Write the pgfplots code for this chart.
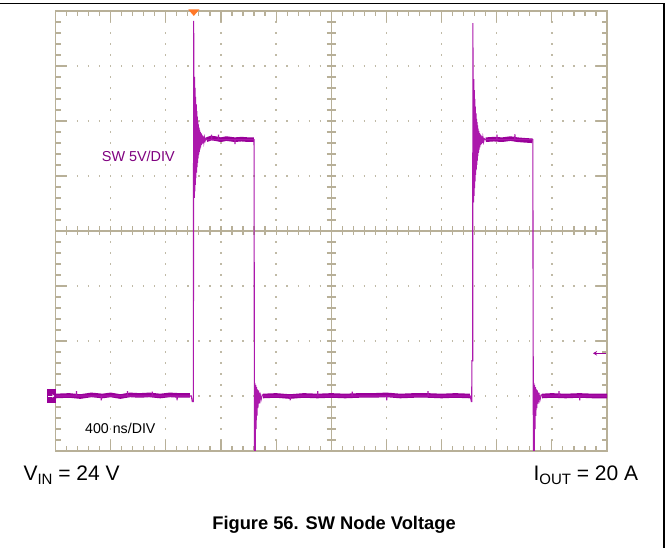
\documentclass[border=0pt]{standalone}
\usepackage{pgfplots}
\pgfplotsset{compat=1.18}
\usepackage{fontspec}
\setmainfont{Liberation Sans}
\usetikzlibrary{arrows.meta}
\definecolor{trace}{RGB}{153,0,153}
\definecolor{edgec}{RGB}{172,24,172}
\definecolor{txtp}{RGB}{128,0,128}
\definecolor{gridc}{RGB}{184,176,152}
\definecolor{dotc}{RGB}{192,186,166}
\definecolor{trig}{RGB}{255,120,40}
\begin{document}
\begin{tikzpicture}
\useasboundingbox (0,0) rectangle (668pt,548pt);
\fill[white] (0,0) rectangle (668pt,548pt);
\begin{scope}[shift={(0pt,548pt)},x=1pt,y=-1pt]
  % dotted grid
  \foreach \i in {1,2,3,4,6,7,8,9} {
    \draw[dotc,line width=1.3pt,dash pattern=on 1.3pt off 9.7pt,dash phase=0.65pt] ({55.5+55.15*\i},11)--({55.5+55.15*\i},451);
  }
  \foreach \k in {1,2,3,5,6,7} {
    \draw[dotc,line width=1.3pt,dash pattern=on 1.3pt off 9.73pt,dash phase=0.65pt] (55.5,{11+55*\k})--(607,{11+55*\k});
  }
  % ticks along x
  \foreach \j in {1,...,49} {
    \pgfmathsetmacro\xx{55.5+11.03*\j}
    \pgfmathsetmacro\len{mod(\j,5)==0 ? 11 : 5}
    \draw[gridc,line width=1.2pt] (\xx,11)--(\xx,{11+\len});
    \draw[gridc,line width=1.2pt] (\xx,451)--(\xx,{451-\len});
    \draw[gridc,line width=1.2pt] (\xx,226.5)--(\xx,235.5);
  }
  % ticks along y
  \foreach \j in {1,...,39} {
    \pgfmathsetmacro\yy{11+11*\j}
    \pgfmathsetmacro\len{mod(\j,5)==0 ? 11 : 5}
    \draw[gridc,line width=1.2pt] (55.5,\yy)--({55.5+\len},\yy);
    \draw[gridc,line width=1.2pt] (607,\yy)--({607-\len},\yy);
    \draw[gridc,line width=1.2pt] (326.8,\yy)--(335.8,\yy);
  }
  \draw[gridc,line width=1.3pt] (55.5,231)--(607,231);
  \draw[gridc,line width=1.3pt] (331.25,11)--(331.25,451);
  \draw[gridc,line width=1.8pt] (55.5,11) rectangle (607,451);
  % outer frame
  \draw[black,line width=1.3pt] (0,3.3)--(664,3.3)--(664,548);
\end{scope}

\begin{axis}[at={(55.5pt,97pt)},anchor=south west,scale only axis,
  width=551.5pt,height=440pt,xmin=0,xmax=4000,ymin=-5,ymax=35,
  hide axis,clip=true,unbounded coords=jump]
% noise bands of the flat parts
\addplot[trace,line width=4.6pt,line join=round] table {
t v
0 0
100 0.05
180 -0.05
260 0.1
340 0
400 0.1
470 -0.05
540 0.1
610 0.05
680 0.1
760 0
830 0.1
900 0.05
975 0.05
980 nan
1095 23.3
1130 23.45
1160 23.4
1200 23.3
1240 23.4
1300 23.3
1350 23.35
1400 23.3
1438 23.3
1440 nan
1505 0
1600 0.05
1700 -0.05
1800 0.05
1900 0
2000 0.05
2100 0
2200 0.05
2300 0.05
2400 0.1
2500 0
2600 0.05
2700 0.05
2800 0
2900 0.05
3005 0
3010 nan
3120 23.3
3180 23.35
3240 23.3
3300 23.4
3350 23.3
3400 23.25
3460 23.2
3462 nan
3528 0
3600 0.05
3700 0
3800 0.05
3900 0
4000 0
};
% main trace
\addplot[edgec,line width=1.1pt] table {
t v
0 0
150 0
152 0.45
154 0
330 0
332 -0.4
334 0
520 0
522 0.45
524 0
700 0
702 0.4
704 0
880 0
882 -0.4
884 0
985 0
992 -0.5
1000 -0.5
1002 34.1
1004.5 26
1006.5 18.0
1008.5 29.0
1010.5 18.6
1012.5 28.0
1014.5 19.2
1016.5 27.2
1018.5 19.8
1020.5 26.5
1022.5 20.3
1024.5 25.9
1026.5 20.8
1028.5 25.4
1030.5 21.2
1032.5 25.0
1034.5 21.6
1036.5 24.7
1038.5 21.9
1040.5 24.4
1042.5 22.2
1045 24.2
1047.5 22.4
1050 24.0
1052.5 22.6
1055 23.9
1057.5 22.8
1060 23.8
1063 22.9
1066 23.7
1069 23.0
1072 23.6
1076 23.1
1080 23.5
1085 23.2
1090 23.4
1100 23.3
1130 23.3
1132 23.75
1134 23.3
1180 23.3
1182 23.75
1184 23.3
1300 23.3
1302 22.9
1304 23.3
1440 23.3
1443 -6
1446 1.2
1449 -5.5
1452 1.0
1455 -3.0
1458 0.8
1461 -1.8
1464 0.6
1468 -1.1
1472 0.5
1477 -0.7
1483 0.3
1490 -0.4
1500 0.1
1510 0
1700 0
1702 -0.4
1704 0
1900 0
1902 0.45
1904 0
2150 0
2152 0.4
2154 0
2400 0
2402 -0.4
2404 0
2700 0
2702 0.45
2704 0
3008 0
3016 -0.5
3019 -0.5
3020 3.2
3026 3.2
3027 33.9
3029.5 26
3031.5 17.6
3033.5 28.8
3035.5 18.2
3037.5 27.8
3039.5 18.9
3041.5 27.0
3043.5 19.5
3045.5 26.3
3047.5 20.1
3049.5 25.7
3051.5 20.6
3053.5 25.2
3055.5 21.0
3057.5 24.9
3059.5 21.4
3061.5 24.6
3063.5 21.8
3065.5 24.3
3067.5 22.1
3070 24.1
3072.5 22.4
3075 23.9
3077.5 22.6
3080 23.8
3083 22.8
3086 23.7
3089 22.9
3092 23.6
3096 23.0
3100 23.5
3105 23.1
3110 23.4
3120 23.3
3200 23.3
3202 23.75
3204 23.3
3330 23.3
3332 23.8
3334 23.3
3462 23.3
3466 -6
3469 1.2
3472 -5.5
3475 1.0
3478 -3.0
3481 0.8
3484 -1.8
3487 0.6
3491 -1.1
3495 0.5
3500 -0.7
3506 0.3
3513 -0.4
3523 0.1
3533 0
3650 0
3652 0.45
3654 0
3800 0
3802 -0.4
3804 0
4000 0
};
\end{axis}

\begin{scope}[shift={(0pt,548pt)},x=1pt,y=-1pt]
  % trigger marker
  \fill[trig] (188.3,9.5)--(199.3,9.5)--(193.8,16)--cycle;
  % ground marker
  \fill[trace] (46.7,389.3) rectangle (55.7,402.7);
  \draw[white,line width=0.8pt,-{Stealth[length=2.5pt,width=3.2pt]}] (48.3,396)--(54.5,396);
  % trigger level marker
  \draw[trace,line width=1pt,{Stealth[length=4pt,width=4.5pt]}-] (593,353.3)--(606,353.3);
  % texts
  \node[anchor=base west,inner sep=0pt,text=txtp,font=\fontsize{14.4}{17}\selectfont] at (101.7,161.3) {SW 5V/DIV};
  \node[anchor=base west,inner sep=0pt,font=\fontsize{14.2}{17}\selectfont] at (85,433.3) {400 ns/DIV};
  \node[anchor=base west,inner sep=0pt,font=\fontsize{21}{24}\selectfont] at (23.3,481) {V\raisebox{-4pt}{\fontsize{15}{15}\selectfont IN} = 24 V};
  \node[anchor=base west,inner sep=0pt,font=\fontsize{21}{24}\selectfont] at (533.3,481) {I\raisebox{-4pt}{\fontsize{15}{15}\selectfont OUT} = 20 A};
  \node[anchor=base,inner sep=0pt,font=\bfseries\fontsize{18.3}{22}\selectfont] at (334,529) {Figure 56. SW Node Voltage};
\end{scope}
\end{tikzpicture}
\end{document}
